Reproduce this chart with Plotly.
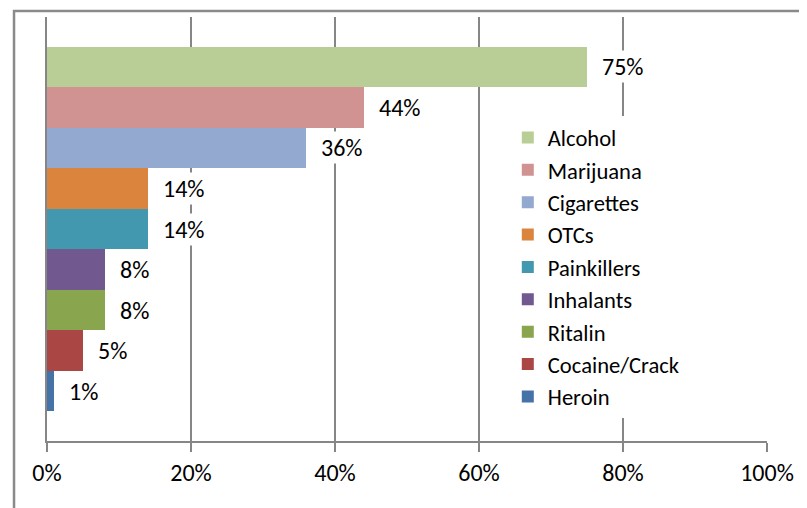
import plotly.graph_objects as go

# Data (bottom to top as Excel plots series)
substances = ["Heroin", "Cocaine/Crack", "Ritalin", "Inhalants", "Painkillers",
              "OTCs", "Cigarettes", "Marijuana", "Alcohol"]
values = [1, 5, 8, 8, 14, 14, 36, 44, 75]
colors = ["#4572A7", "#AA4643", "#89A54E", "#71588F", "#4198AF",
          "#DB843D", "#93A9CF", "#D19392", "#B9CD96"]
tick_vals = [0, 20, 40, 60, 80, 100]
tick_text = ["0%", "20%", "40%", "60%", "80%", "100%"]

FONT = "Carlito, Calibri, Lato, sans-serif"
FS = 24
GAP = 0.728  # Excel gap width on each side of the bar group, in bar units

fig = go.Figure()
for name, v, c in zip(substances, values, colors):
    fig.add_trace(go.Bar(
        x=[v], y=[name], name=name, orientation="h",
        marker=dict(color=c, line=dict(width=0)),
    ))

annotations = [
    dict(x=v, y=name, xref="x", yref="y", text=f"{v}%", showarrow=False,
         xanchor="left", yanchor="middle", xshift=13,
         bgcolor="white", borderpad=1,
         font=dict(family=FONT, size=FS, color="#000000"))
    for name, v in zip(substances, values)
]

fig.update_layout(
    width=807, height=508,
    barmode="overlay", bargap=0,
    paper_bgcolor="white", plot_bgcolor="white",
    margin=dict(l=39, r=48, t=9, b=75),
    font=dict(family=FONT, size=FS, color="#000000"),
    showlegend=True,
    legend=dict(
        traceorder="reversed", x=0.64, y=0.766, xanchor="left", yanchor="top",
        font=dict(family=FONT, size=22.6), itemwidth=30, tracegroupgap=0,
        bgcolor="white",
    ),
    xaxis=dict(
        range=[0, 100], tickvals=tick_vals, ticktext=tick_text,
        showgrid=True, gridcolor="#868686", gridwidth=2,
        showline=True, linecolor="#868686", linewidth=2,
        ticks="outside", ticklen=9, tickcolor="#868686", tickwidth=2,
        zeroline=False, tickfont=dict(family=FONT, size=FS),
    ),
    yaxis=dict(type="category", categoryorder="array", categoryarray=substances,
               range=[-0.5 - GAP, len(substances) - 0.5 + GAP],
               showticklabels=False, showgrid=False, zeroline=False,
               showline=True, linecolor="#868686", linewidth=2, ticks=""),
    annotations=annotations,
    shapes=[dict(type="rect", xref="paper", yref="paper",
                 x0=-0.0458, x1=1.3, y0=-0.4, y1=1.0142,
                 line=dict(color="#8a8a8a", width=2.5), layer="below")],
)

fig.write_html("out.html")
